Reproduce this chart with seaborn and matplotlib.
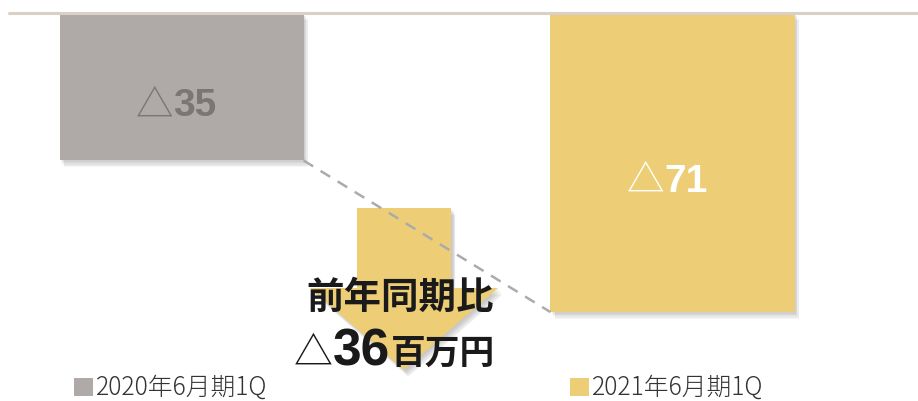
import matplotlib
matplotlib.use("Agg")
import matplotlib.pyplot as plt
import matplotlib.patheffects as pe
from matplotlib.patches import Polygon, Rectangle
import seaborn as sns
import pandas as pd

# Operating result (million yen), first quarter of each fiscal year
periods = ["2020年6月期1Q", "2021年6月期1Q"]
values = [-35, -71]
bar_colors = ["#afaaa8", "#edcd76"]
label_colors = ["#7a7675", "#ffffff"]
change = values[1] - values[0]

sns.set_theme(style="white")
plt.rcParams["font.family"] = ["Noto Sans CJK JP", "DejaVu Sans"]
NUM_FONT = ["Liberation Sans", "Noto Sans CJK JP"]
TEXT = "#1a1a1a"

W, H = 918, 401
fig = plt.figure(figsize=(W / 100, H / 100), dpi=100)
ax = fig.add_axes([0, 0, 1, 1])

df = pd.DataFrame({"period": periods, "value": values})
sns.barplot(data=df, x="period", y="value", hue="period", palette=bar_colors,
            width=0.497, legend=False, ax=ax, saturation=1)


def soft_shadow(alpha=0.045):
    steps = [(1, -1), (2, -2), (2, -3), (3, -4), (3, -5)]
    return [pe.SimplePatchShadow(offset=o, shadow_rgbFace="k", alpha=alpha) for o in steps] + [pe.Normal()]


for p in ax.patches:
    p.set_path_effects(soft_shadow())
    p.set_edgecolor("none")

ax.set_xlim(-0.3697, 1.5)
ax.set_ylim(-92.1, 3.09)
ax.axis("off")

# baseline
ax.axhline(0, xmin=9 / W, xmax=1, color="#d9d1c8", lw=2.2, zorder=5)

# value labels inside the bars: outline triangle + bold number
for i, (v, c) in enumerate(zip(values, label_colors)):
    y = v / 2 - 7
    ax.annotate("△", (i, y), xytext=(-8, 0), textcoords="offset pixels",
                ha="right", va="baseline", fontsize=27, color=c)
    ax.annotate(f"{abs(v)}", (i, y), xytext=(-8, 0), textcoords="offset pixels",
                ha="left", va="baseline", fontsize=28, fontweight="bold",
                family=NUM_FONT, color=c)

# dashed connector between the bar bottoms
hw = 0.497 / 2
ax.plot([0 + hw, 1 - hw], [values[0], values[1]], ls=(0, (4.5, 3.5)),
        color="#ababab", lw=1.8, zorder=3)


def px(x, y):
    return (x / W, 1 - y / H)


# downward arrow
arrow_pts = [px(357, 208), px(451, 208), px(451, 288), px(498, 288),
             px(404, 370), px(310, 288), px(357, 288)]
arrow = Polygon(arrow_pts, closed=True, transform=ax.transAxes,
                facecolor=bar_colors[1], edgecolor="none", zorder=2,
                path_effects=soft_shadow(0.05))
ax.add_patch(arrow)

ax.text(*px(400, 297), "前年同期比", transform=ax.transAxes,
        ha="center", va="center", fontsize=27, fontweight="bold", color=TEXT, zorder=6)
ax.text(*px(333, 365), "△", transform=ax.transAxes,
        ha="right", va="baseline", fontsize=28, color=TEXT, zorder=6)
ax.text(*px(333, 365), f"{abs(change)}", transform=ax.transAxes,
        ha="left", va="baseline", fontsize=37, fontweight="bold",
        family=NUM_FONT, color=TEXT, zorder=6)
ax.text(*px(391, 364), "百万円", transform=ax.transAxes,
        ha="left", va="baseline", fontsize=25, fontweight="bold", color=TEXT, zorder=6)

# legend entries
for x0, lab, col in [(74, periods[0], bar_colors[0]), (570, periods[1], bar_colors[1])]:
    ax.add_patch(Rectangle(px(x0, 396), 19 / W, 18 / H, transform=ax.transAxes,
                           facecolor=col, edgecolor="none"))
    ax.text(*px(x0 + 22, 387), lab, transform=ax.transAxes,
            ha="left", va="center", fontsize=17.8, fontweight="light", color="#333333")

fig.savefig("out.png", dpi=100)
